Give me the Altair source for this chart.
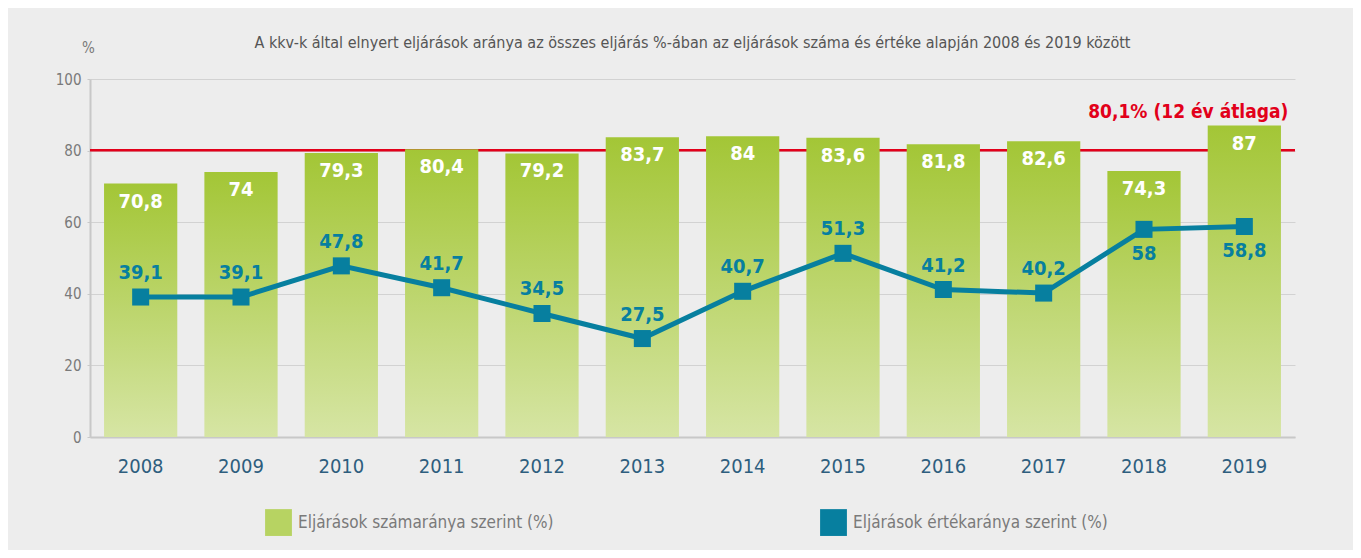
import altair as alt
import pandas as pd

years = ["2008", "2009", "2010", "2011", "2012", "2013", "2014", "2015", "2016", "2017", "2018", "2019"]
count_share = [70.8, 74, 79.3, 80.4, 79.2, 83.7, 84, 83.6, 81.8, 82.6, 74.3, 87]
value_share = [39.1, 39.1, 47.8, 41.7, 34.5, 27.5, 40.7, 51.3, 41.2, 40.2, 58, 58.8]
average = 80.1
average_label = "80,1% (12 év átlaga)"
series_names = ["Eljárások számaránya szerint (%)", "Eljárások értékaránya szerint (%)"]
title_text = "A kkv-k által elnyert eljárások aránya az összes eljárás %-ában az eljárások száma és értéke alapján 2008 és 2019 között"
labels_below = ["2018", "2019"]

FONT = "Liberation Sans Narrow, DejaVu Sans Condensed, Roboto Condensed, sans-serif"
GREEN_TOP = "#a3c636"
GREEN_BOT = "#d6e5a4"
GREEN_MID = "#b7d362"
TEAL = "#077f9f"
RED = "#e2001a"
GRAY = "#7a7a7a"


def fmt(v):
    return f"{v:g}".replace(".", ",")


df = pd.DataFrame({
    "year": years,
    "count": count_share,
    "value": value_share,
    "count_label": [fmt(v) for v in count_share],
    "value_label": [fmt(v) for v in value_share],
})
df["below"] = df["year"].isin(labels_below)

avg_df = pd.DataFrame({"avg": [average], "label": [average_label], "year": [years[-1]]})
legend_df = pd.DataFrame({"series": series_names, "year": [years[0]] * 2, "v": [0, 0]})

xenc = alt.X(
    "year:N",
    sort=years,
    scale=alt.Scale(paddingInner=0.27, paddingOuter=0.14),
    axis=alt.Axis(
        title=None, labelAngle=0, labelColor="#2e5e7e", labelFontSize=20, labelFont=FONT,
        labelPadding=19, ticks=False, domainColor="#c8c8c8", domainWidth=2,
    ),
)
yscale = alt.Scale(domain=[0, 100])
yenc = alt.Y(
    "count:Q",
    scale=yscale,
    axis=alt.Axis(
        values=[0, 20, 40, 60, 80, 100], title="%", titleAngle=0, titleAlign="center",
        titleBaseline="middle", titleX=-2, titleY=-32, titleFontSize=15, titleFont=FONT,
        titleColor=GRAY, titleFontWeight="normal", labelColor=GRAY, labelFontSize=15,
        labelFont=FONT, labelPadding=6, domainColor="#c8c8c8", domainWidth=2,
        gridColor="#d2d2d2", gridWidth=1, tickColor="#c8c8c8", tickSize=3,
    ),
)

base = alt.Chart(df)

rule = alt.Chart(avg_df).mark_rule(color=RED, strokeWidth=2.5).encode(
    y=alt.Y("avg:Q", scale=yscale)
)

bars = base.mark_bar(
    color=alt.Gradient(
        gradient="linear",
        stops=[alt.GradientStop(color=GREEN_TOP, offset=0), alt.GradientStop(color=GREEN_BOT, offset=1)],
        x1=0, x2=0, y1=0, y2=1,
    )
).encode(x=xenc, y=yenc)

bar_text = base.mark_text(
    color="white", fontWeight="bold", fontSize=20, font=FONT, baseline="middle", dy=18
).encode(x=alt.X("year:N", sort=years), y=alt.Y("count:Q", scale=yscale), text="count_label:N")

line = base.mark_line(color=TEAL, strokeWidth=5).encode(
    x=alt.X("year:N", sort=years), y=alt.Y("value:Q", scale=yscale)
)
points = base.mark_square(color=TEAL, size=290, opacity=1).encode(
    x=alt.X("year:N", sort=years), y=alt.Y("value:Q", scale=yscale)
)
text_above = base.transform_filter("!datum.below").mark_text(
    color=TEAL, fontWeight="bold", fontSize=20, font=FONT, baseline="middle", dy=-24
).encode(x=alt.X("year:N", sort=years), y=alt.Y("value:Q", scale=yscale), text="value_label:N")
text_below = base.transform_filter("datum.below").mark_text(
    color=TEAL, fontWeight="bold", fontSize=20, font=FONT, baseline="middle", dy=25
).encode(x=alt.X("year:N", sort=years), y=alt.Y("value:Q", scale=yscale), text="value_label:N")

avg_text = alt.Chart(avg_df).mark_text(
    color=RED, fontWeight="bold", fontSize=19, font=FONT, align="right", baseline="middle", dx=44, dy=-38
).encode(x=alt.X("year:N", sort=years), y=alt.Y("avg:Q", scale=yscale), text="label:N")

legend_layer = alt.Chart(legend_df).mark_square(opacity=0, size=1).encode(
    x=alt.X("year:N", sort=years),
    y=alt.Y("v:Q", scale=yscale),
    color=alt.Color(
        "series:N",
        sort=series_names,
        scale=alt.Scale(domain=series_names, range=[GREEN_MID, TEAL]),
        legend=alt.Legend(
            title=None, orient="none", legendX=175, legendY=430, direction="horizontal",
            symbolType="square", symbolSize=720, symbolOpacity=1, symbolStrokeWidth=0,
            labelFontSize=17, labelFont=FONT, labelColor=GRAY, labelOffset=6, labelLimit=500,
            columnPadding=266, padding=0,
        ),
    ),
)

chart = alt.layer(
    rule, bars, bar_text, line, points, text_above, text_below, avg_text, legend_layer
).properties(
    width=1205,
    height=358,
    title=alt.Title(
        title_text, fontSize=16, font=FONT, color="#555555", fontWeight="normal",
        anchor="middle", offset=28, dy=39,
    ),
    autosize=alt.AutoSizeParams(type="none"),
    padding={"left": 82, "top": 71, "right": 58, "bottom": 113},
).configure(background="#ededed").configure_view(stroke=None)

chart.save("out.html", embed_options={"renderer": "svg", "actions": False})
